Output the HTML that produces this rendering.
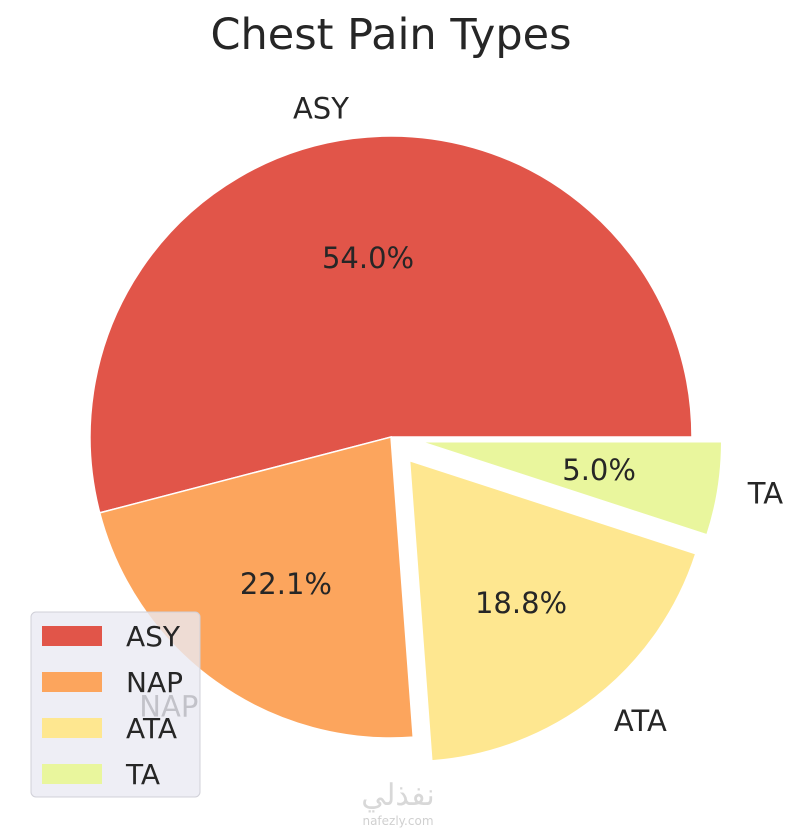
<!DOCTYPE html>
<html><head><meta charset="utf-8"><style>
html,body{margin:0;padding:0;background:#fff;}
svg{display:block;font-family:"DejaVu Sans","Liberation Sans",sans-serif;}
</style></head><body>
<svg id="chart" width="800" height="829" viewBox="0 0 800 829">
<text x="391" y="49" text-anchor="middle" font-size="43" fill="#262626">Chest Pain Types</text>
<g id="wedges"></g>
<g id="legend">
<rect x="31" y="612" width="169" height="185" rx="5" fill="#eaeaf2" fill-opacity="0.8" stroke="#d0d0d8"/>
</g>
<text x="398" y="805" text-anchor="middle" font-size="30" fill="#d8d8d8" font-family="'Liberation Sans','Noto Sans CJK SC',sans-serif">نفذلي</text>
<text x="398" y="825" text-anchor="middle" font-size="12" fill="#d0d0d0">nafezly.com</text>
</svg>
<script>
const categories = ["ASY","NAP","ATA","TA"];
const values = [54.0, 22.1, 18.8, 5.0];
const explode = [0, 0, 0.1, 0.1];
const colors = ["#e15549","#fca55d","#fee790","#e9f69d"];
const cx=391, cy=437, R=301;
const ns="http://www.w3.org/2000/svg";
const g=document.getElementById('wedges');
const lg=document.getElementById('legend');
const total=values.reduce((a,b)=>a+b,0);
let a0=0;
function pt(a,r,ox,oy){const t=a*Math.PI/180;return [ox+r*Math.cos(t), oy-r*Math.sin(t)];}
values.forEach((v,i)=>{
  const sweep=v/total*360, a1=a0+sweep, mid=a0+sweep/2;
  const [ox,oy]=pt(mid,explode[i]*R,cx,cy);
  const [x0,y0]=pt(a0,R,ox,oy),[x1,y1]=pt(a1,R,ox,oy);
  const p=document.createElementNS(ns,'path');
  p.setAttribute('d',`M${ox},${oy} L${x0},${y0} A${R},${R} 0 ${sweep>180?1:0} 0 ${x1},${y1} Z`);
  p.setAttribute('fill',colors[i]);p.setAttribute('stroke','#fff');p.setAttribute('stroke-width','1.5');
  
  
  g.appendChild(p);
  const [lx,ly]=pt(mid,1.1*R,ox,oy);
  const t=document.createElementNS(ns,'text');
  t.setAttribute('x',lx);t.setAttribute('y',ly+10);t.setAttribute('font-size','29');t.setAttribute('fill','#262626');
  t.setAttribute('text-anchor',Math.cos(mid*Math.PI/180)<0?'end':'start');
  t.textContent=categories[i];
  
  
  g.appendChild(t);
  const [px,py]=pt(mid,0.6*R,ox,oy);
  const q=document.createElementNS(ns,'text');
  q.setAttribute('x',px);q.setAttribute('y',py+10);q.setAttribute('font-size','29');q.setAttribute('fill','#262626');q.setAttribute('text-anchor','middle');
  q.textContent=v.toFixed(1)+'%';
  
  
  g.appendChild(q);
  a0=a1;
});
categories.forEach((c,i)=>{
  const y=626+i*46;
  const r=document.createElementNS(ns,'rect');
  r.setAttribute('x',42);r.setAttribute('y',y);r.setAttribute('width',60);r.setAttribute('height',20);r.setAttribute('fill',colors[i]);
  
  
  lg.appendChild(r);
  const t=document.createElementNS(ns,'text');
  t.setAttribute('x',126);t.setAttribute('y',y+20);t.setAttribute('font-size','28');t.setAttribute('fill','#262626');
  t.textContent=c;
  
  
  lg.appendChild(t);
});
</script>
</body></html>
